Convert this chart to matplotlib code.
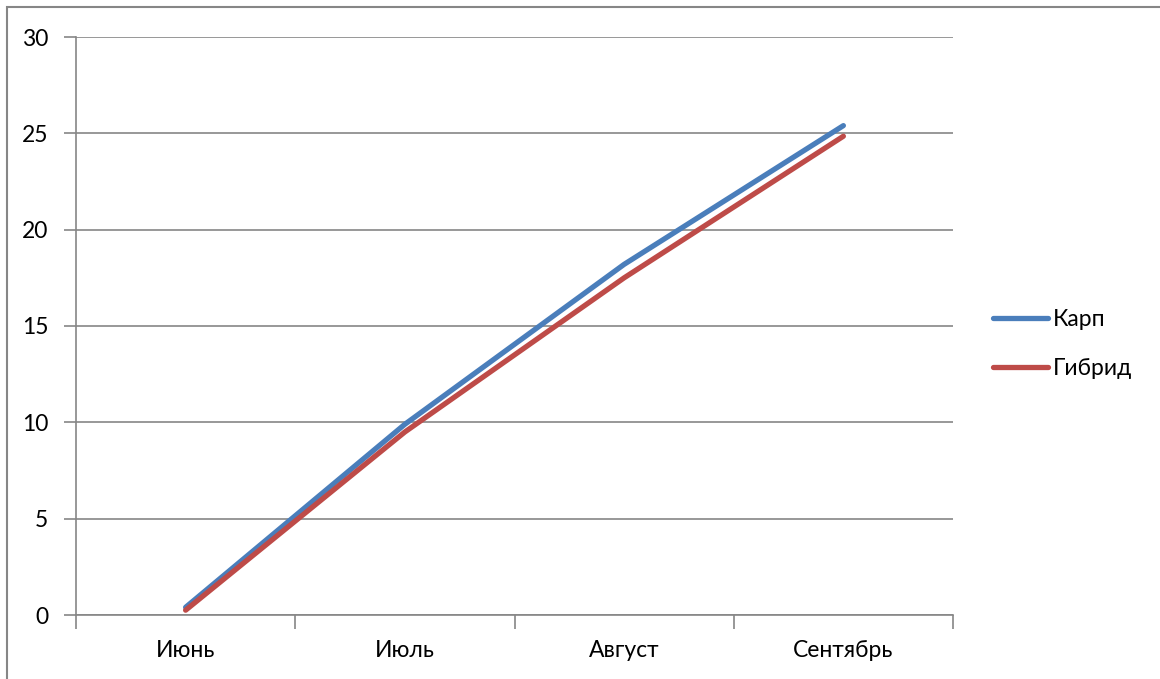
import numpy as np
import matplotlib.pyplot as plt
from matplotlib.patches import Rectangle

plt.rcParams['font.family'] = ['Lato', 'DejaVu Sans']

# data
months = ['Июнь', 'Июль', 'Август', 'Сентябрь']
karp = [0.4, 9.9, 18.2, 25.4]
gibrid = [0.25, 9.5, 17.5, 24.85]

grid_color = '#868686'

fig = plt.figure(figsize=(11.6, 6.79), dpi=100)
ax = fig.add_axes([76 / 1160, 1 - 615 / 679, 877 / 1160, 578 / 679])

# outer chart border (right/bottom cropped off)
fig.patches.append(Rectangle((7 / 1160, -0.1), 1.2, 1 - 7 / 679 + 0.1,
                             transform=fig.transFigure, fill=False,
                             edgecolor=grid_color, linewidth=1.5))

x = np.arange(len(months))
ax.plot(x, karp, color='#4a7ebb', linewidth=3.8, solid_capstyle='round', label='Карп', zorder=3)
ax.plot(x, gibrid, color='#be4b48', linewidth=3.8, solid_capstyle='round', label='Гибрид', zorder=3)

ax.set_xlim(-0.5, len(months) - 0.5)
ax.set_ylim(0, 30)
ax.set_yticks(range(0, 31, 5))
ax.set_xticks(x)
ax.set_xticklabels(months)
ax.set_xticks(np.arange(-0.5, len(months)), minor=True)
ax.yaxis.grid(True, color=grid_color, linewidth=1.2)
ax.set_axisbelow(True)

for s in ['top', 'right']:
    ax.spines[s].set_visible(False)
for s in ['left', 'bottom']:
    ax.spines[s].set_color(grid_color)
    ax.spines[s].set_linewidth(1.2)

fs = 16.5
ax.tick_params(axis='x', which='major', length=0, pad=18, labelsize=fs)
ax.tick_params(axis='x', which='minor', length=10, color=grid_color, width=1.2)
ax.tick_params(axis='y', length=9, color=grid_color, width=1.2, pad=11, labelsize=fs)

ax.legend(loc='center left', bbox_to_anchor=((993 - 76) / 877, (615 - 344) / 578),
          frameon=False, fontsize=fs, handlelength=2.4, handletextpad=0.2,
          labelspacing=1.2, borderaxespad=0, borderpad=0)

plt.savefig('out.png', dpi=100)
